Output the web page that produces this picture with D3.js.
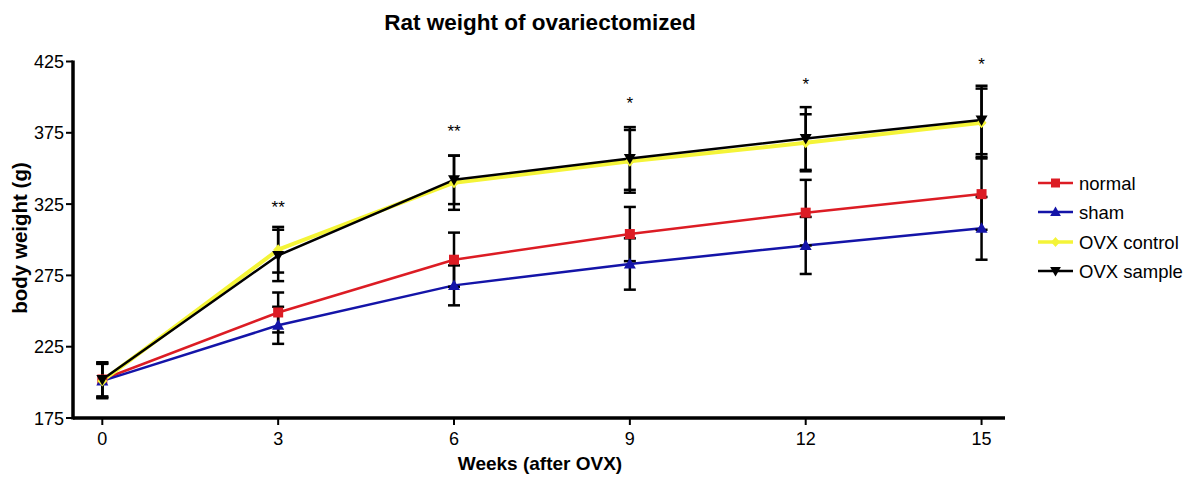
<!DOCTYPE html>
<html>
<head>
<meta charset="utf-8">
<script src="https://cdn.jsdelivr.net/npm/d3@7"></script>
<style>
  html, body { margin: 0; padding: 0; background: #fff; }
  svg { display: block; }
</style>
</head>
<body>
<svg id="chart" width="1192" height="479"></svg>
<script>
// Weeks after ovariectomy
const weeks = [0, 3, 6, 9, 12, 15];

// Body weight means (g) and error (SEM) per group
const normalMean  = [202, 249, 286, 304, 319, 332];
const normalErr   = [12, 14, 19, 19, 23, 25];
const shamMean    = [201, 240, 268, 283, 296, 308];
const shamErr     = [12, 13, 14, 18, 20, 22];
const controlMean = [201, 293, 340, 355, 368, 382];
const controlErr  = [12, 16, 19, 22, 20, 24];
const sampleMean  = [202, 289, 342, 357, 371, 384];
const sampleErr   = [12, 18, 17, 22, 22, 24];

// Significance marks and their height (g)
const sigWeeks  = [3, 6, 9, 12, 15];
const sigLabels = ["**", "**", "*", "*", "*"];
const sigValues = [326, 379, 399, 412, 426];

const yTicks = [175, 225, 275, 325, 375, 425];
const seriesNames = ["normal", "sham", "OVX control", "OVX sample"];

const series = [
  { name: seriesNames[0], mean: normalMean,  err: normalErr,  color: "#dc1c24", width: 2.5, symbol: "square" },
  { name: seriesNames[1], mean: shamMean,    err: shamErr,    color: "#1414a8", width: 2.5, symbol: "triUp" },
  { name: seriesNames[2], mean: controlMean, err: controlErr, color: "#f4f438", width: 4, symbol: "diamond" },
  { name: seriesNames[3], mean: sampleMean,  err: sampleErr,  color: "#000000", width: 2.5, symbol: "triDown" }
];

const svg = d3.select("#chart");
const x = d3.scaleLinear().domain([-0.5, 15.4]).range([73, 1005]);
const y = d3.scaleLinear().domain([175, 425]).range([418, 61.5]);

function symbolPath(kind, size) {
  const s = size;
  if (kind === "square") return `M${-s/2},${-s/2}h${s}v${s}h${-s}Z`;
  if (kind === "triUp") return `M0,${-s*0.6}L${s*0.6},${s*0.45}L${-s*0.6},${s*0.45}Z`;
  if (kind === "triDown") return `M0,${s*0.6}L${s*0.6},${-s*0.45}L${-s*0.6},${-s*0.45}Z`;
  return `M0,${-s*0.55}L${s*0.5},0L0,${s*0.55}L${-s*0.5},0Z`;
}

const line = d3.line().x((d, i) => x(weeks[i])).y(d => y(d));

// Series lines
series.forEach(s => {
  svg.append("path")
    .attr("d", line(s.mean))
    .attr("fill", "none")
    .attr("stroke", s.color)
    .attr("stroke-width", s.width)
    .attr("stroke-linejoin", "round");
});

// Error bars (black, capped)
const capHalf = 6;
series.forEach(s => {
  const g = svg.append("g").attr("stroke", "#000").attr("stroke-width", 2.5);
  weeks.forEach((w, i) => {
    const cx = x(w), top = y(s.mean[i] + s.err[i]), bot = y(s.mean[i] - s.err[i]);
    g.append("line").attr("x1", cx).attr("x2", cx).attr("y1", top).attr("y2", bot);
    g.append("line").attr("x1", cx - capHalf).attr("x2", cx + capHalf).attr("y1", top).attr("y2", top);
    g.append("line").attr("x1", cx - capHalf).attr("x2", cx + capHalf).attr("y1", bot).attr("y2", bot);
  });
});

// Symbols
series.forEach(s => {
  svg.append("g").selectAll("path")
    .data(s.mean)
    .join("path")
    .attr("transform", (d, i) => `translate(${x(weeks[i])},${y(d)})`)
    .attr("d", symbolPath(s.symbol, 10))
    .attr("fill", s.color);
});

// Axes
const axisFont = "'Liberation Sans', Arial, sans-serif";
svg.append("line").attr("x1", x(-0.5)).attr("x2", x(15.4)).attr("y1", y(175)).attr("y2", y(175))
  .attr("stroke", "#000").attr("stroke-width", 3.5);
svg.append("line").attr("x1", x(-0.5)).attr("x2", x(-0.5)).attr("y1", y(425) - 1).attr("y2", y(175) + 1.5)
  .attr("stroke", "#000").attr("stroke-width", 3.5);

const yAxisG = svg.append("g");
yTicks.forEach(t => {
  yAxisG.append("line").attr("x1", x(-0.5) - 7).attr("x2", x(-0.5)).attr("y1", y(t)).attr("y2", y(t))
    .attr("stroke", "#000").attr("stroke-width", 2);
  yAxisG.append("text").attr("x", x(-0.5) - 9).attr("y", y(t) + 6.5)
    .attr("text-anchor", "end").attr("font-family", axisFont).attr("font-size", 18)
    .text(t);
});
const xAxisG = svg.append("g");
weeks.forEach(w => {
  xAxisG.append("line").attr("x1", x(w)).attr("x2", x(w)).attr("y1", y(175)).attr("y2", y(175) + 7)
    .attr("stroke", "#000").attr("stroke-width", 2);
  xAxisG.append("text").attr("x", x(w)).attr("y", y(175) + 27)
    .attr("text-anchor", "middle").attr("font-family", axisFont).attr("font-size", 18)
    .text(w);
});

// Significance asterisks
sigWeeks.forEach((w, i) => {
  svg.append("text").attr("x", x(w)).attr("y", y(sigValues[i]) + 10)
    .attr("text-anchor", "middle").attr("font-family", "Liberation Sans, Arial, sans-serif")
    .attr("font-size", 17).text(sigLabels[i]);
});

// Titles
svg.append("text").attr("x", 540).attr("y", 30).attr("text-anchor", "middle")
  .attr("font-family", "'Liberation Sans', Arial, sans-serif").attr("font-weight", "bold").attr("font-size", 22.5)
  .text("Rat weight of ovariectomized");
svg.append("text").attr("x", 540).attr("y", 470).attr("text-anchor", "middle")
  .attr("font-family", "'Liberation Sans', Arial, sans-serif").attr("font-weight", "bold").attr("font-size", 19)
  .text("Weeks (after OVX)");
svg.append("text").attr("transform", "translate(27,238) rotate(-90)").attr("text-anchor", "middle")
  .attr("font-family", "'Liberation Sans', Arial, sans-serif").attr("font-weight", "bold").attr("font-size", 20.5)
  .text("body weight (g)");

// Legend
const legendY = [183, 212, 242, 271];
series.forEach((s, i) => {
  const g = svg.append("g").attr("transform", `translate(0,${legendY[i]})`);
  g.append("line").attr("x1", 1038).attr("x2", 1073).attr("y1", 0).attr("y2", 0)
    .attr("stroke", s.color).attr("stroke-width", s.width === 4 ? 3.5 : 2.5);
  g.append("path").attr("transform", "translate(1055.5,0)").attr("d", symbolPath(s.symbol, 9)).attr("fill", s.color);
  g.append("text").attr("x", 1079).attr("y", 7).attr("font-family", "'Liberation Sans', Arial, sans-serif")
    .attr("font-size", 18.5).text(s.name);
});
</script>
</body>
</html>
